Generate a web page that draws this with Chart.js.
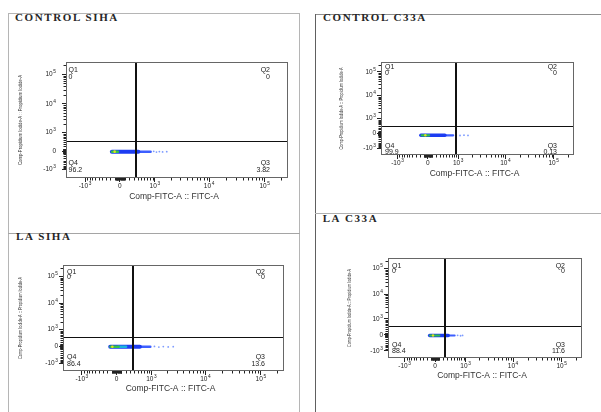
<!DOCTYPE html>
<html><head><meta charset="utf-8">
<script src="https://cdn.jsdelivr.net/npm/chart.js@4.4.1/dist/chart.umd.min.js"></script>
<style>
html,body{margin:0;padding:0;background:#fff;}
body{width:601px;height:412px;position:relative;overflow:hidden;}
.ln{position:absolute;}
.ttl{position:absolute;font-family:"Liberation Serif","Times New Roman",serif;font-size:11px;font-weight:bold;line-height:11.5px;letter-spacing:1.6px;color:#262626;white-space:nowrap;}
canvas{position:absolute;}
</style></head><body>
<div class="ln" style="left:8px;top:13px;width:291px;height:1px;background:#b5b5b5"></div>
<div class="ln" style="left:8px;top:13px;width:1px;height:399px;background:#b5b5b5"></div>
<div class="ln" style="left:299px;top:13px;width:1px;height:399px;background:#b5b5b5"></div>
<div class="ln" style="left:8px;top:233px;width:292px;height:1px;background:#a5a5a5"></div>
<div class="ln" style="left:315px;top:14px;width:286px;height:1px;background:#909090"></div>
<div class="ln" style="left:315px;top:14px;width:1px;height:398px;background:#606060"></div>
<div class="ln" style="left:315px;top:213px;width:286px;height:1px;background:#b0b0b0"></div>

<div class="ttl" id="t0" style="left:15px;top:11.6px"></div>
<div class="ttl" id="t1" style="left:323px;top:12.3px"></div>
<div class="ttl" id="t2" style="left:16px;top:230.6px"></div>
<div class="ttl" id="t3" style="left:322.7px;top:213.3px"></div>

<canvas id="c0" width="286" height="160" style="left:10px;top:50px"></canvas>
<canvas id="c1" width="272" height="140" style="left:318px;top:50px"></canvas>
<canvas id="c2" width="286" height="160" style="left:10px;top:250px"></canvas>
<canvas id="c3" width="278" height="160" style="left:318px;top:245px"></canvas>

<script>
// ---------------- data ----------------
const PANEL_TITLES = ['CONTROL SIHA', 'CONTROL C33A', 'LA SIHA', 'LA C33A'];
const AXIS_X_TITLE = 'Comp-FITC-A :: FITC-A';
const AXIS_Y_TITLE = 'Comp-Propidium Iodide-A :: Propidium Iodide-A';
const TICK_VALUES = [-1000, 0, 1000, 10000, 100000];
const TICK_BASES = ['-10', '0', '10', '10', '10'];
const TICK_EXPONENTS = ['3', '', '3', '4', '5'];
const X_MIN = -2300, Y_MIN = -2000, AXIS_MAX = 262144;
const QUAD_NAMES = ['Q1', 'Q2', 'Q3', 'Q4'];

// quadrant percentages [Q1, Q2, Q3, Q4]
const Q_CONTROL_SIHA = [0, 0, 3.82, 96.2];
const Q_CONTROL_C33A = [0, 0, 0.13, 99.9];
const Q_LA_SIHA = [0, 0, 13.6, 86.4];
const Q_LA_C33A = [0, 0, 11.6, 88.4];

// quadrant gates [FITC, PI]
const GATE_CONTROL_SIHA = [360, 441];
const GATE_CONTROL_C33A = [880, 390];
const GATE_LA_SIHA = [362, 434];
const GATE_LA_C33A = [233, 460];

// event cloud: [FITC, PI]
const CORE_CONTROL_SIHA = [[-110, -20]];
const GREEN_CONTROL_SIHA = [[-165, -20], [-40, -20]];
const BLUE_CONTROL_SIHA = [[-170, -20], [420, -20]];
const TAIL_CONTROL_SIHA = [[420, -20], [820, -20]];
const SPARSE_CONTROL_SIHA = [[950, -5], [1080, -35], [1230, -15], [1420, -30], [1700, -20]];

const CORE_CONTROL_C33A = [[-60, -90]];
const GREEN_CONTROL_C33A = [[-150, -90], [30, -90]];
const BLUE_CONTROL_C33A = [[-170, -90], [450, -90]];
const TAIL_CONTROL_C33A = [[450, -90], [760, -90]];
const SPARSE_CONTROL_C33A = [[900, -80], [1100, -100], [1350, -85], [1650, -95]];

const CORE_LA_SIHA = [[-90, -10]];
const GREEN_LA_SIHA = [[-130, -10], [40, -10]];
const CYAN_LA_SIHA = [[40, -10], [200, -10]];
const BLUE_LA_SIHA = [[-136, -10], [560, -10]];
const TAIL_LA_SIHA = [[560, -10], [950, -10]];
const SPARSE_LA_SIHA = [[1150, 0], [1400, -25], [1700, -5], [2100, -20], [2600, -10]];

const CORE_LA_C33A = [[-50, -30]];
const GREEN_LA_C33A = [[-120, -30], [100, -30]];
const BLUE_LA_C33A = [[-131, -30], [330, -30]];
const TAIL_LA_C33A = [[330, -30], [530, -30]];
const SPARSE_LA_C33A = [[640, -20], [760, -40], [850, -25]];

// ---------------- biexponential scale ----------------
const W = 250;
function bx(v) { return Math.asinh(v / (2 * W)) / Math.LN10; }
function bxInv(t) { return Math.sinh(t * Math.LN10) * 2 * W; }

class LogicleScale extends Chart.LinearScale {
  determineDataLimits() { this.min = this.options.min; this.max = this.options.max; }
  buildTicks() { return TICK_VALUES.map(v => ({ value: v })); }
  getPixelForValue(v) {
    const t0 = bx(this.min), t1 = bx(this.max);
    return this.getPixelForDecimal((bx(v) - t0) / (t1 - t0));
  }
  getValueForPixel(p) {
    const t0 = bx(this.min), t1 = bx(this.max);
    return bxInv(t0 + this.getDecimalForPixel(p) * (t1 - t0));
  }
}
LogicleScale.id = 'logicle';
LogicleScale.defaults = Chart.LinearScale.defaults;
Chart.register(LogicleScale);

const MINOR_TICKS = [10, -10, 100, -100];
[10, 100, 1000, 10000, 100000].forEach(d => {
  for (let k = 2; k <= 9; k++) {
    MINOR_TICKS.push(k * d);
    if (d <= 100) MINOR_TICKS.push(-k * d);
  }
});

const SANS = '"Liberation Sans", Arial, sans-serif';
const BASE_FONT = '6.5px ' + SANS, EXP_FONT = '4.8px ' + SANS;

function drawTickLabel(ctx, i, x, y, align) {
  const b = TICK_BASES[i], e = TICK_EXPONENTS[i];
  ctx.font = BASE_FONT;
  const wb = ctx.measureText(b).width;
  ctx.font = EXP_FONT;
  const we = e ? ctx.measureText(e).width + 0.6 : 0;
  const total = wb + we;
  let x0 = align === 'center' ? x - total / 2 : x - total;
  ctx.textAlign = 'left';
  ctx.textBaseline = 'middle';
  ctx.font = BASE_FONT;
  ctx.fillText(b, x0, y);
  if (e) { ctx.font = EXP_FONT; ctx.fillText(e, x0 + wb + 0.6, y - 2.6); }
}

const decor = {
  id: 'flowDecor',
  afterDatasetsDraw(chart, args, o) {
    const ctx = chart.ctx;
    const { left, top, right, bottom } = chart.chartArea;
    const xs = chart.scales.x, ys = chart.scales.y;
    ctx.save();
    // quadrant gates
    ctx.strokeStyle = '#111';
    ctx.lineWidth = 2;
    const gx = Math.round(xs.getPixelForValue(o.gate[0]));
    ctx.beginPath(); ctx.moveTo(gx, top); ctx.lineTo(gx, bottom); ctx.stroke();
    ctx.lineWidth = 1.2;
    const gy = Math.round(ys.getPixelForValue(o.gate[1])) + 0.5;
    ctx.beginPath(); ctx.moveTo(left, gy); ctx.lineTo(right, gy); ctx.stroke();
    // box
    ctx.strokeStyle = '#666';
    ctx.lineWidth = 1;
    ctx.strokeRect(Math.round(left) + 0.5, Math.round(top) + 0.5, Math.round(right - left) - 1, Math.round(bottom - top) - 1);
    // minor ticks
    ctx.strokeStyle = '#222';
    ctx.beginPath();
    MINOR_TICKS.forEach(v => {
      if (v > X_MIN && v < AXIS_MAX) {
        const px = Math.round(xs.getPixelForValue(v)) + 0.5;
        ctx.moveTo(px, bottom); ctx.lineTo(px, bottom + 2.5);
      }
      if (v > Y_MIN && v < AXIS_MAX) {
        const py = Math.round(ys.getPixelForValue(v)) + 0.5;
        ctx.moveTo(left, py); ctx.lineTo(left - 2.5, py);
      }
    });
    ctx.stroke();
    // major tick labels
    ctx.fillStyle = '#222';
    TICK_VALUES.forEach((v, i) => {
      drawTickLabel(ctx, i, xs.getPixelForValue(v), bottom + 8, 'center');
      drawTickLabel(ctx, i, left - 4 - o.yPad, ys.getPixelForValue(v), 'right');
    });
    // quadrant labels
    ctx.font = '7px ' + SANS;
    ctx.textBaseline = 'middle';
    const q = o.quad, L = o.qLab;
    const fmt = v => String(v);
    ctx.textAlign = 'left';
    ctx.fillText(QUAD_NAMES[0], left + L.dl, top + L.t1);
    ctx.fillText(fmt(q[0]), left + L.dl, top + L.t2);
    ctx.fillText(QUAD_NAMES[3], left + L.dl, bottom - L.b1);
    ctx.fillText(fmt(q[3]), left + L.dl, bottom - L.b2);
    ctx.textAlign = 'right';
    ctx.fillText(QUAD_NAMES[1], right - L.dr, top + L.t1);
    ctx.fillText(fmt(q[1]), right - L.dr, top + L.t2);
    ctx.fillText(QUAD_NAMES[2], right - L.dr, bottom - L.b1);
    ctx.fillText(fmt(q[2]), right - L.dr, bottom - L.b2);
    // axis titles
    ctx.fillStyle = '#333';
    ctx.textAlign = 'center';
    ctx.font = '8.5px ' + SANS;
    ctx.fillText(AXIS_X_TITLE, (left + right) / 2 - 3, bottom + o.xTitleDy);
    ctx.save();
    ctx.translate(left + o.yTitleDx, (top + bottom) / 2);
    ctx.rotate(-Math.PI / 2);
    ctx.font = '6px ' + SANS;
    const w = ctx.measureText(AXIS_Y_TITLE).width;
    ctx.scale(o.yTitleLen / w, 1);
    ctx.fillText(AXIS_Y_TITLE, 0, 0);
    ctx.restore();
    ctx.restore();
  }
};
Chart.register(decor);

function line(data, color, width, order) {
  return { data, showLine: true, borderColor: color, borderWidth: width, pointRadius: 0, borderCapStyle: 'round', order };
}
function dots(data, color, r, order) {
  return { data, showLine: false, backgroundColor: color, borderWidth: 0, pointRadius: r, order };
}

const PANELS = [
  { quad: Q_CONTROL_SIHA, gate: GATE_CONTROL_SIHA,
    sets: [dots(CORE_CONTROL_SIHA, '#e0e020', 1.3, 0), line(GREEN_CONTROL_SIHA, '#33c24a', 2.5, 1),
           line(BLUE_CONTROL_SIHA, '#1c3cf2', 4, 3), line(TAIL_CONTROL_SIHA, '#3d5fff', 2.5, 4), dots(SPARSE_CONTROL_SIHA, '#7d9bff', 0.9, 5)],
    g: { yw: 56, xh: 32, padTop: 12, padRight: 8, yPad: 6 },
    qLab: { dl: 2.6, dr: 18, t1: 8, t2: 15, b1: 15, b2: 7.6 }, xTitleDy: 19, yTitleDx: -46, yTitleLen: 90 },
  { quad: Q_CONTROL_C33A, gate: GATE_CONTROL_C33A,
    sets: [dots(CORE_CONTROL_C33A, '#e0e020', 1.2, 0), line(GREEN_CONTROL_C33A, '#33c24a', 2.2, 1),
           line(BLUE_CONTROL_C33A, '#1c3cf2', 3.5, 3), line(TAIL_CONTROL_C33A, '#3d5fff', 2.2, 4), dots(SPARSE_CONTROL_C33A, '#7d9bff', 0.9, 5)],
    g: { yw: 63, xh: 35, padTop: 12, padRight: 16, yPad: 1 },
    qLab: { dl: 4, dr: 17, t1: 5.5, t2: 11, b1: 9.3, b2: 3.3 }, xTitleDy: 19, yTitleDx: -40, yTitleLen: 82 },
  { quad: Q_LA_SIHA, gate: GATE_LA_SIHA,
    sets: [dots(CORE_LA_SIHA, '#e0e020', 1.3, 0), line(GREEN_LA_SIHA, '#33c24a', 2.5, 1), line(CYAN_LA_SIHA, '#19b5dc', 2.5, 2),
           line(BLUE_LA_SIHA, '#1c3cf2', 4, 3), line(TAIL_LA_SIHA, '#3d5fff', 2.5, 4), dots(SPARSE_LA_SIHA, '#7d9bff', 0.9, 5)],
    g: { yw: 53, xh: 39, padTop: 15, padRight: 12, yPad: 1 },
    qLab: { dl: 4, dr: 19, t1: 6.7, t2: 12.3, b1: 13.7, b2: 6.7 }, xTitleDy: 18, yTitleDx: -43, yTitleLen: 82 },
  { quad: Q_LA_C33A, gate: GATE_LA_C33A,
    sets: [dots(CORE_LA_C33A, '#e0e020', 1.2, 0), line(GREEN_LA_C33A, '#33c24a', 2.2, 1),
           line(BLUE_LA_C33A, '#1c3cf2', 3.5, 3), line(TAIL_LA_C33A, '#3d5fff', 2.2, 4), dots(SPARSE_LA_C33A, '#7d9bff', 0.9, 5)],
    g: { yw: 70, xh: 47, padTop: 13, padRight: 14, yPad: 1 },
    qLab: { dl: 4, dr: 17, t1: 7.7, t2: 12.7, b1: 12.6, b2: 6.6 }, xTitleDy: 17.7, yTitleDx: -39, yTitleLen: 78 }
];

PANELS.forEach((p, i) => {
  document.getElementById('t' + i).textContent = PANEL_TITLES[i];
  const gridOpt = { drawOnChartArea: false, drawTicks: true, tickLength: 4, tickColor: '#222', color: '#222', lineWidth: 1 };
  new Chart(document.getElementById('c' + i), {
    type: 'scatter',
    data: { datasets: p.sets },
    options: {
      responsive: false, animation: false, events: [], devicePixelRatio: 1,
      layout: { padding: { top: p.g.padTop, right: p.g.padRight, left: 0, bottom: 0 } },
      plugins: {
        legend: { display: false }, tooltip: { enabled: false },
        flowDecor: { quad: p.quad, gate: p.gate, qLab: p.qLab, xTitleDy: p.xTitleDy, yTitleDx: p.yTitleDx, yTitleLen: p.yTitleLen, yPad: p.g.yPad }
      },
      scales: {
        x: { type: 'logicle', min: X_MIN, max: AXIS_MAX, afterFit: s => { s.height = p.g.xh; },
             grid: gridOpt, border: { display: false }, ticks: { display: false, autoSkip: false } },
        y: { type: 'logicle', min: Y_MIN, max: AXIS_MAX, afterFit: s => { s.width = p.g.yw; },
             grid: gridOpt, border: { display: false }, ticks: { display: false, autoSkip: false } }
      }
    }
  });
});
</script>
</body></html>
